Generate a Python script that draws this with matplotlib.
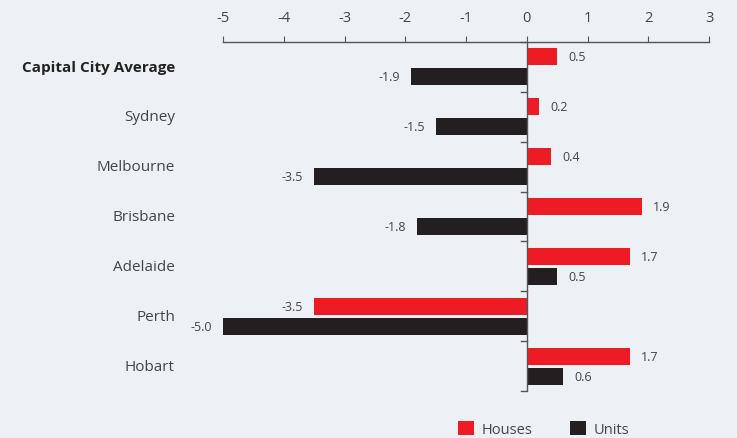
import matplotlib
matplotlib.use("Agg")
import matplotlib.pyplot as plt
from matplotlib.patches import Patch
import numpy as np

plt.rcParams['font.family'] = ['Open Sans', 'DejaVu Sans']

categories = ["Capital City Average", "Sydney", "Melbourne", "Brisbane", "Adelaide", "Perth", "Hobart"]
houses = [0.5, 0.2, 0.4, 1.9, 1.7, -3.5, 1.7]
units = [-1.9, -1.5, -3.5, -1.8, 0.5, -5.0, 0.6]
xticks = [-5, -4, -3, -2, -1, 0, 1, 2, 3]

bg = "#edf0f4"
red = "#ed1c24"
black = "#231f20"
axcol = "#555555"
txtcol = "#444444"

W, H = 737, 439
fig = plt.figure(figsize=(W/100, H/100), dpi=100, facecolor=bg)
ax = fig.add_axes([223/W, 1-392/H, (709-223)/W, (392-43)/H], facecolor=bg)

y = np.arange(len(categories))
off = 0.2
hgt = 0.34
ax.barh(y - off, houses, height=hgt, color=red, zorder=2)
ax.barh(y + off, units, height=hgt, color=black, zorder=2)

for yi, v in zip(y - off, houses):
    ax.annotate(f"{v:.1f}", (v, yi), xytext=(8 if v >= 0 else -8, 0), textcoords="offset points",
                ha="left" if v >= 0 else "right", va="center", fontsize=9, color=txtcol)
for yi, v in zip(y + off, units):
    ax.annotate(f"{v:.1f}", (v, yi), xytext=(8 if v >= 0 else -8, 0), textcoords="offset points",
                ha="left" if v >= 0 else "right", va="center", fontsize=9, color=txtcol)

ax.set_xlim(-5, 3)
ax.set_ylim(len(categories) - 0.5, -0.5)
ax.xaxis.tick_top()
ax.set_xticks(xticks)
ax.set_xticklabels([str(t) for t in xticks])
ax.tick_params(axis="x", direction="out", length=4, color=axcol, labelsize=10.5, labelcolor=txtcol, pad=8)

for s in ["right", "bottom", "left"]:
    ax.spines[s].set_visible(False)
ax.spines["top"].set_color(axcol)
ax.spines["top"].set_linewidth(1)

# y-axis drawn at x=0
ax.axvline(0, color=axcol, lw=1, zorder=3)
ax.set_yticks([])
for b in np.arange(-0.5, len(categories) + 0.5, 1):
    ax.plot([-0.1, 0], [b, b], color=axcol, lw=1, zorder=3, clip_on=False)

label_x = -5 - 48/60.75
for yi, c in zip(y, categories):
    ax.text(label_x, yi, c, ha="right", va="center",
            fontsize=11, color="#222222" if yi == 0 else txtcol,
            fontweight="bold" if yi == 0 else "normal")

handles = [Patch(facecolor=red, label="Houses"), Patch(facecolor=black, label="Units")]
fig.legend(handles=handles, loc="upper left", bbox_to_anchor=(452/W, 1-416/H), ncol=2,
           frameon=False, handlelength=1.1, handleheight=1.1, handletextpad=0.5,
           columnspacing=2.6, fontsize=10.5, labelcolor=txtcol, borderaxespad=0)

fig.savefig("out.png", dpi=100, facecolor=bg)
